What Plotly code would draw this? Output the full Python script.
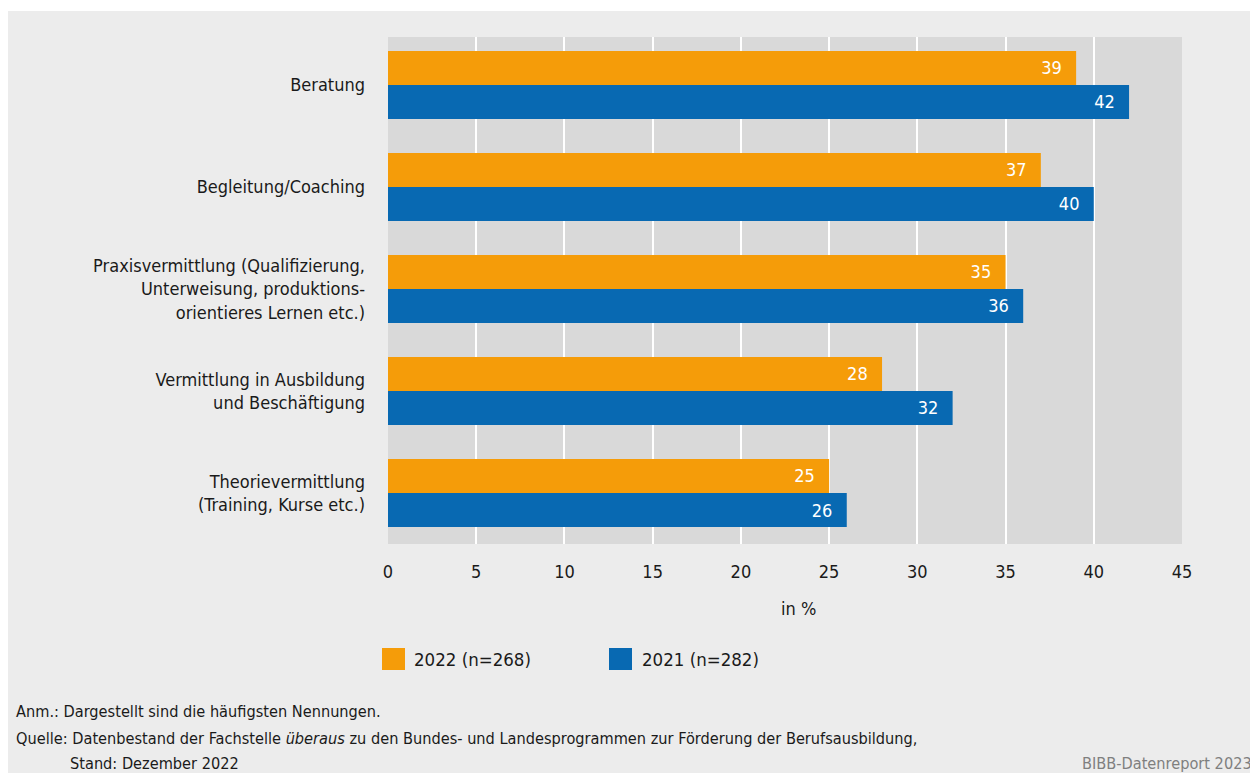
import plotly.graph_objects as go

categories = [
    "Beratung",
    "Begleitung/Coaching",
    "Praxisvermittlung (Qualifizierung,<br>Unterweisung, produktions-<br>orientieres Lernen etc.)",
    "Vermittlung in Ausbildung<br>und Beschäftigung",
    "Theorievermittlung<br>(Training, Kurse etc.)",
]
values_2022 = [39, 37, 35, 28, 25]
values_2021 = [42, 40, 36, 32, 26]
series_names = ["2022 (n=268)", "2021 (n=282)"]
x_ticks = [0, 5, 10, 15, 20, 25, 30, 35, 40, 45]

ORANGE = "#f59c09"
BLUE = "#0869b2"
FONT = "DejaVu Sans Condensed, Liberation Sans Narrow, sans-serif"

OFF = 8  # page body margin
W, H = 1250, 765
L, T = 388 - OFF, 37 - OFF
R = W - (1182 - OFF)
B = H - (544 - OFF)
pw, ph = W - L - R, H - T - B

def px(x):
    return (x - OFF - L) / pw

def py(y):
    return (H - B - (y - OFF)) / ph

fig = go.Figure()
for name, vals, col in [(series_names[0], values_2022, ORANGE), (series_names[1], values_2021, BLUE)]:
    fig.add_trace(go.Bar(
        y=categories, x=vals, orientation="h", name=name,
        marker=dict(color=col, line=dict(width=0)),
        text=[str(v) for v in vals],
        texttemplate="%{text}\u2002\u2009",
        textposition="inside", insidetextanchor="end",
        textfont=dict(color="white", size=18, family=FONT),
        showlegend=False, cliponaxis=False,
    ))

fig.update_layout(
    width=W, height=H,
    margin=dict(l=L, r=R, t=T, b=B, autoexpand=False),
    paper_bgcolor="#ececec", plot_bgcolor="#d9d9d9",
    barmode="group", bargap=0.333, bargroupgap=0,
    font=dict(family=FONT, size=18, color="#1a1a1a"),
    xaxis=dict(range=[0, 45], tickvals=x_ticks, showgrid=True, gridcolor="white",
               gridwidth=2, zeroline=False, showline=False, ticks="",
               ticklabelstandoff=15, tickfont=dict(size=18)),
    yaxis=dict(range=[4.5, -0.47], showgrid=False, ticks="", ticklabelstandoff=22,
               tickfont=dict(size=18)),
)

shapes = [
    dict(type="rect", xref="paper", yref="paper", x0=px(0), x1=px(1300), y0=py(8), y1=py(11),
         fillcolor="white", line=dict(width=0), layer="above"),
]
annotations = [
    dict(text="in %", xref="paper", yref="paper", x=px(798), y=py(608), showarrow=False,
         xanchor="center", yanchor="middle", font=dict(size=18)),
]

# manual legend
leg = [(382, 412, ORANGE, series_names[0]), (609, 640, BLUE, series_names[1])]
for sx, tx, col, name in leg:
    shapes.append(dict(type="rect", xref="paper", yref="paper", x0=px(sx), x1=px(sx + 23),
                       y0=py(670), y1=py(648), fillcolor=col, line=dict(width=0)))
    annotations.append(dict(text=name, xref="paper", yref="paper", x=px(tx), y=py(659),
                            showarrow=False, xanchor="left", yanchor="middle",
                            font=dict(size=18.5)))

notes = [
    (14, 711, "Anm.: Dargestellt sind die häufigsten Nennungen."),
    (14, 738, "Quelle: Datenbestand der Fachstelle <i>überaus</i> zu den Bundes- und Landesprogrammen zur Förderung der Berufsausbildung,"),
    (68, 763, "Stand: Dezember 2022"),
]
for x, y, t in notes:
    annotations.append(dict(text=t, xref="paper", yref="paper", x=px(x), y=py(y), showarrow=False,
                            xanchor="left", yanchor="middle", font=dict(size=16.2)))
annotations.append(dict(text="BIBB-Datenreport 2023", xref="paper", yref="paper", x=px(1254), y=py(763),
                        showarrow=False, xanchor="right", yanchor="middle",
                        font=dict(size=16.2, color="#7f7f7f")))

fig.update_layout(shapes=shapes, annotations=annotations)
fig.write_html("out.html")
